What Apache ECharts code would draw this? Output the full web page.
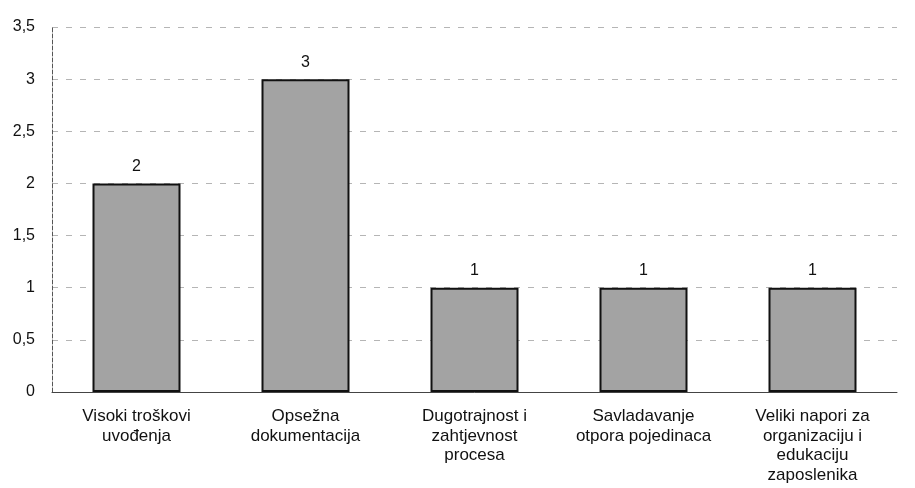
<!DOCTYPE html>
<html>
<head>
<meta charset="utf-8">
<script src="https://cdn.jsdelivr.net/npm/echarts@6/dist/echarts.min.js"></script>
<style>
  html, body { margin: 0; padding: 0; background: #fff; }
  #main { width: 915px; height: 488px; }
</style>
</head>
<body>
<div id="main"></div>
<script>
// podaci
const categories = [
    'Visoki troškovi\nuvođenja',
    'Opsežna\ndokumentacija',
    'Dugotrajnost i\nzahtjevnost\nprocesa',
    'Savladavanje\notpora pojedinaca',
    'Veliki napori za\norganizaciju i\nedukaciju\nzaposlenika'
];
const values = [2, 3, 1, 1, 1];

let myChart = echarts.init(document.getElementById('main'));

let option = {
    animation: false,
    grid: {
        left: 52,
        right: 18,
        top: 27,
        bottom: 96,
        outerBoundsMode: 'none'
    },
    xAxis: {
        type: 'category',
        data: categories,
        axisTick: { show: false },
        axisLine: { lineStyle: { color: '#444', width: 1 } },
        axisLabel: {
            interval: 0,
            color: '#111',
            fontFamily: 'Liberation Sans, Arial, sans-serif',
            fontSize: 17,
            lineHeight: 19.5,
            margin: 15
        }
    },
    yAxis: {
        type: 'value',
        min: 0,
        max: 3.5,
        interval: 0.5,
        axisLine: { show: true, lineStyle: { color: '#555', type: 'dashed', width: 1 } },
        axisTick: { show: false },
        axisLabel: {
            color: '#111',
            fontFamily: 'Liberation Sans, Arial, sans-serif',
            fontSize: 16,
            margin: 17,
            formatter: (v) => String(v).replace('.', ',')  // decimalni zarez
        },
        splitLine: {
            lineStyle: { color: '#b5b5b5', type: [6, 8], width: 1 }
        }
    },
    series: [
        {
            type: 'bar',
            data: values,
            barWidth: 88,
            itemStyle: {
                color: '#a3a3a3',
                borderColor: '#111',
                borderWidth: 2
            },
            label: {
                show: true,
                position: 'top',
                distance: 9,
                color: '#111',
                fontFamily: 'Liberation Sans, Arial, sans-serif',
                fontSize: 16
            }
        }
    ]
};
myChart.setOption(option);
</script>
</body>
</html>
